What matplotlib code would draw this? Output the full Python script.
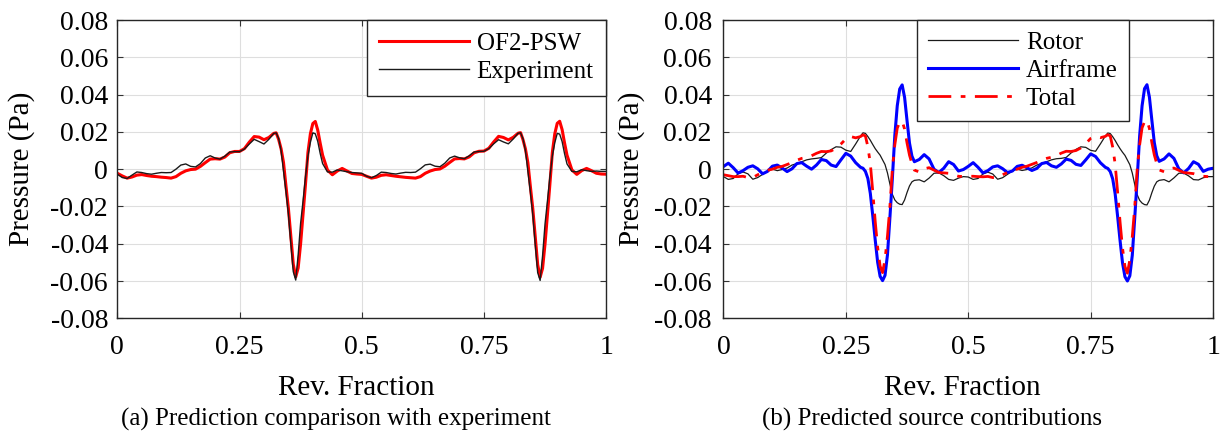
import matplotlib
matplotlib.use('Agg')
import matplotlib.pyplot as plt

plt.rcParams['font.family'] = ['Liberation Serif', 'DejaVu Serif']
plt.rcParams['axes.unicode_minus'] = False

# ---- (a) prediction vs experiment ----
rev_a = [
    0.00, 0.01, 0.02, 0.03, 0.04, 0.05, 0.06, 0.07, 0.08, 0.09,
    0.10, 0.11, 0.12, 0.13, 0.14, 0.15, 0.16, 0.17, 0.18, 0.19,
    0.20, 0.21, 0.22, 0.23, 0.24, 0.25, 0.26, 0.27, 0.28, 0.29,
    0.30, 0.31, 0.32,
    0.325, 0.33, 0.335, 0.34, 0.345, 0.35, 0.355, 0.36, 0.365, 0.37,
    0.375, 0.38, 0.385, 0.39, 0.395, 0.40, 0.405, 0.41, 0.415, 0.42,
    0.43, 0.44, 0.45, 0.46, 0.47, 0.48, 0.49,
    0.50, 0.51, 0.52, 0.53, 0.54, 0.55, 0.56, 0.57, 0.58, 0.59,
    0.60, 0.61, 0.62, 0.63, 0.64, 0.65, 0.66, 0.67, 0.68, 0.69,
    0.70, 0.71, 0.72, 0.73, 0.74, 0.75, 0.76, 0.77, 0.78, 0.79,
    0.80, 0.81, 0.82,
    0.825, 0.83, 0.835, 0.84, 0.845, 0.85, 0.855, 0.86, 0.865, 0.87,
    0.875, 0.88, 0.885, 0.89, 0.895, 0.90, 0.905, 0.91, 0.915, 0.92,
    0.93, 0.94, 0.95, 0.96, 0.97, 0.98, 0.99, 1.00,
]

of2_psw = [
    -0.0022, -0.0036, -0.0048, -0.0042, -0.0032, -0.0029, -0.0034, -0.0038, -0.0040, -0.0043,
    -0.0045, -0.0048, -0.0040, -0.0022, -0.0009, -0.0002, 0.0000, 0.0015, 0.0035, 0.0054,
    0.0056, 0.0054, 0.0065, 0.0088, 0.0095, 0.0095, 0.0110, 0.0145, 0.0175, 0.0172,
    0.0158, 0.0170, 0.0192,
    0.0195, 0.0160, 0.0110, 0.0036, -0.0090, -0.0210, -0.0360, -0.0510, -0.0578, -0.0530,
    -0.0400, -0.0240, -0.0080, 0.0090, 0.0190, 0.0245, 0.0256, 0.0210, 0.0140, 0.0075,
    -0.0005, -0.0030, -0.0010, 0.0004, -0.0010, -0.0023, -0.0026,
    -0.0028, -0.0038, -0.0048, -0.0043, -0.0033, -0.0030, -0.0034, -0.0038, -0.0041, -0.0044,
    -0.0046, -0.0048, -0.0040, -0.0022, -0.0010, -0.0002, 0.0001, 0.0016, 0.0036, 0.0055,
    0.0057, 0.0055, 0.0066, 0.0088, 0.0096, 0.0097, 0.0112, 0.0146, 0.0176, 0.0170,
    0.0157, 0.0171, 0.0193,
    0.0196, 0.0158, 0.0108, 0.0034, -0.0092, -0.0212, -0.0362, -0.0512, -0.0580, -0.0532,
    -0.0402, -0.0242, -0.0080, 0.0090, 0.0190, 0.0246, 0.0257, 0.0212, 0.0140, 0.0075,
    -0.0004, -0.0028, -0.0008, 0.0004, -0.0008, -0.0022, -0.0026, -0.0027,
]

experiment = [
    -0.0027, -0.0045, -0.0050, -0.0032, -0.0015, -0.0018, -0.0024, -0.0027, -0.0022, -0.0018,
    -0.0019, -0.0018, 0.0000, 0.0022, 0.0028, 0.0015, 0.0012, 0.0030, 0.0060, 0.0072,
    0.0060, 0.0054, 0.0070, 0.0092, 0.0094, 0.0094, 0.0108, 0.0135, 0.0160, 0.0148,
    0.0135, 0.0160, 0.0192,
    0.0195, 0.0165, 0.0100, -0.0010, -0.0120, -0.0240, -0.0400, -0.0550, -0.0595, -0.0460,
    -0.0290, -0.0170, -0.0040, 0.0070, 0.0144, 0.0195, 0.0190, 0.0150, 0.0085, 0.0030,
    -0.0015, -0.0016, -0.0004, -0.0009, -0.0014, -0.0018, -0.0020,
    -0.0022, -0.0038, -0.0046, -0.0034, -0.0016, -0.0018, -0.0023, -0.0026, -0.0021, -0.0017,
    -0.0018, -0.0016, 0.0002, 0.0023, 0.0027, 0.0016, 0.0013, 0.0032, 0.0060, 0.0070,
    0.0061, 0.0056, 0.0072, 0.0092, 0.0095, 0.0096, 0.0110, 0.0136, 0.0158, 0.0146,
    0.0136, 0.0162, 0.0193,
    0.0195, 0.0163, 0.0098, -0.0012, -0.0122, -0.0245, -0.0405, -0.0555, -0.0597, -0.0465,
    -0.0295, -0.0170, -0.0040, 0.0070, 0.0142, 0.0192, 0.0188, 0.0148, 0.0083, 0.0028,
    -0.0012, -0.0014, -0.0003, -0.0008, -0.0012, -0.0010, -0.0012, -0.0012,
]

# ---- (b) source breakdown ----
rev_b = [
    0.00, 0.01, 0.02, 0.03, 0.04, 0.05, 0.06, 0.07, 0.08, 0.09,
    0.10, 0.11, 0.12, 0.13, 0.14, 0.15, 0.16, 0.17, 0.18, 0.19,
    0.20, 0.21, 0.22, 0.23, 0.24, 0.25, 0.26, 0.27, 0.28,
    0.285, 0.29, 0.295, 0.30, 0.305, 0.31, 0.315, 0.32, 0.325, 0.33, 0.335,
    0.34, 0.345, 0.35, 0.355, 0.36, 0.365, 0.37, 0.375, 0.38, 0.385, 0.39,
    0.40, 0.41, 0.42, 0.43, 0.44, 0.45, 0.46, 0.47, 0.48, 0.49,
    0.50, 0.51, 0.52, 0.53, 0.54, 0.55, 0.56, 0.57, 0.58, 0.59,
    0.60, 0.61, 0.62, 0.63, 0.64, 0.65, 0.66, 0.67, 0.68, 0.69,
    0.70, 0.71, 0.72, 0.73, 0.74, 0.75, 0.76, 0.77, 0.78,
    0.785, 0.79, 0.795, 0.80, 0.805, 0.81, 0.815, 0.82, 0.825, 0.83, 0.835,
    0.84, 0.845, 0.85, 0.855, 0.86, 0.865, 0.87, 0.875, 0.88, 0.885, 0.89,
    0.90, 0.91, 0.92, 0.93, 0.94, 0.95, 0.96, 0.97, 0.98, 0.99, 1.00,
]

rotor = [
    -0.0040, -0.0055, -0.0050, -0.0025, -0.0015, -0.0025, -0.0054, -0.0045, -0.0028, -0.0010,
    0.0000, -0.0008, -0.0002, 0.0006, 0.0022, 0.0030, 0.0040, 0.0050, 0.0055, 0.0058,
    0.0062, 0.0086, 0.0105, 0.0120, 0.0118, 0.0102, 0.0095, 0.0135, 0.0178,
    0.0195, 0.0192, 0.0175, 0.0155, 0.0132, 0.0110, 0.0092, 0.0075, 0.0050, 0.0025, -0.0020,
    -0.0080, -0.0135, -0.0165, -0.0180, -0.0188, -0.0190, -0.0165, -0.0125, -0.0090, -0.0068, -0.0060,
    -0.0057, -0.0068, -0.0048, -0.0022, -0.0020, -0.0035, -0.0055, -0.0060, -0.0048, -0.0040,
    -0.0042, -0.0055, -0.0050, -0.0026, -0.0016, -0.0026, -0.0054, -0.0046, -0.0028, -0.0010,
    0.0000, -0.0007, -0.0002, 0.0007, 0.0022, 0.0031, 0.0040, 0.0050, 0.0056, 0.0058,
    0.0063, 0.0087, 0.0106, 0.0120, 0.0117, 0.0101, 0.0096, 0.0136, 0.0178,
    0.0194, 0.0191, 0.0174, 0.0154, 0.0131, 0.0110, 0.0091, 0.0074, 0.0049, 0.0024, -0.0021,
    -0.0082, -0.0137, -0.0167, -0.0182, -0.0190, -0.0192, -0.0166, -0.0126, -0.0091, -0.0068, -0.0060,
    -0.0056, -0.0068, -0.0047, -0.0022, -0.0021, -0.0036, -0.0056, -0.0058, -0.0046, -0.0040, -0.0040,
]

airframe = [
    0.0014, 0.0032, 0.0008, -0.0021, -0.0008, 0.0010, 0.0018, 0.0002, -0.0025, -0.0012,
    0.0016, 0.0022, 0.0006, -0.0013, 0.0002, 0.0030, 0.0035, 0.0016, 0.0000, 0.0022,
    0.0052, 0.0046, 0.0022, 0.0014, 0.0050, 0.0085, 0.0070, 0.0035, 0.0010,
    0.0005, -0.0012, -0.0050, -0.0130, -0.0250, -0.0380, -0.0500, -0.0575, -0.0598, -0.0570, -0.0460,
    -0.0260, -0.0050, 0.0180, 0.0340, 0.0430, 0.0452, 0.0385, 0.0260, 0.0140, 0.0070, 0.0040,
    0.0052, 0.0078, 0.0055, 0.0000, -0.0018, 0.0005, 0.0040, 0.0025, -0.0010, -0.0002,
    0.0015, 0.0035, 0.0010, -0.0020, -0.0008, 0.0012, 0.0018, 0.0003, -0.0018, -0.0010,
    0.0015, 0.0021, 0.0007, -0.0007, 0.0004, 0.0030, 0.0036, 0.0018, 0.0010, 0.0028,
    0.0054, 0.0047, 0.0026, 0.0020, 0.0050, 0.0082, 0.0068, 0.0034, 0.0010,
    0.0004, -0.0013, -0.0052, -0.0132, -0.0252, -0.0382, -0.0502, -0.0577, -0.0600, -0.0572, -0.0462,
    -0.0262, -0.0052, 0.0178, 0.0340, 0.0432, 0.0453, 0.0386, 0.0262, 0.0142, 0.0072, 0.0042,
    0.0055, 0.0082, 0.0058, 0.0002, -0.0020, 0.0004, 0.0040, 0.0026, -0.0012, 0.0000, 0.0005,
]

total = [
    -0.0030, -0.0035, -0.0040, -0.0040, -0.0038, -0.0045, -0.0045, -0.0030, -0.0018, -0.0006,
    0.0000, 0.0010, 0.0015, 0.0025, 0.0035, 0.0048, 0.0058, 0.0063, 0.0072, 0.0085,
    0.0095, 0.0094, 0.0098, 0.0112, 0.0135, 0.0162, 0.0175, 0.0168, 0.0175,
    0.0184, 0.0178, 0.0120, 0.0030, -0.0120, -0.0280, -0.0420, -0.0520, -0.0555, -0.0485, -0.0360,
    -0.0200, 0.0000, 0.0130, 0.0220, 0.0252, 0.0258, 0.0215, 0.0140, 0.0075, 0.0030, -0.0005,
    -0.0015, 0.0002, 0.0008, -0.0005, -0.0018, -0.0020, -0.0022, -0.0030, -0.0038, -0.0040,
    -0.0038, -0.0038, -0.0040, -0.0041, -0.0039, -0.0045, -0.0044, -0.0030, -0.0018, -0.0007,
    0.0000, 0.0010, 0.0016, 0.0026, 0.0036, 0.0049, 0.0058, 0.0064, 0.0073, 0.0086,
    0.0096, 0.0095, 0.0100, 0.0114, 0.0137, 0.0165, 0.0176, 0.0169, 0.0176,
    0.0185, 0.0178, 0.0118, 0.0028, -0.0122, -0.0282, -0.0422, -0.0522, -0.0558, -0.0487, -0.0362,
    -0.0202, -0.0002, 0.0130, 0.0222, 0.0255, 0.0262, 0.0218, 0.0142, 0.0076, 0.0030, -0.0004,
    -0.0014, 0.0002, 0.0006, -0.0006, -0.0018, -0.0021, -0.0024, -0.0032, -0.0038, -0.0040, -0.0040,
]

y_ticks = [-0.08, -0.06, -0.04, -0.02, 0, 0.02, 0.04, 0.06, 0.08]
y_tick_labels = ['-0.08', '-0.06', '-0.04', '-0.02', '0', '0.02', '0.04', '0.06', '0.08']
x_ticks = [0, 0.25, 0.5, 0.75, 1]
x_tick_labels = ['0', '0.25', '0.5', '0.75', '1']


def style_axes(ax, ylabel_x, ytick_pad):
    ax.set_xlim(0, 1)
    ax.set_ylim(-0.08, 0.08)
    ax.set_xticks(x_ticks, x_tick_labels)
    ax.set_yticks(y_ticks, y_tick_labels)
    ax.tick_params(direction='in', length=4, width=0.8, color='0.2',
                   top=True, right=True, labelsize=20)
    ax.tick_params(axis='x', pad=12)
    ax.tick_params(axis='y', pad=ytick_pad)
    ax.grid(True, color='0.87', lw=0.8)
    ax.set_axisbelow(True)
    for sp in ax.spines.values():
        sp.set_linewidth(1.0)
        sp.set_color('0.15')
    ax.set_xlabel('Rev. Fraction', fontsize=21, va='center')
    ax.xaxis.set_label_coords(0.488, -0.235)
    ax.set_ylabel('Pressure (Pa)', fontsize=21, va='center')
    ax.yaxis.set_label_coords(ylabel_x, 0.5)


fig = plt.figure(figsize=(12.22, 4.36), dpi=100)
ax1 = fig.add_axes([0.096, 0.27, 0.400, 0.684])
ax2 = fig.add_axes([0.592, 0.27, 0.4007, 0.684])

ax1.plot(rev_a, of2_psw, color='#ff0000', lw=2.2, label='OF2-PSW')
ax1.plot(rev_a, experiment, color='#1a1a1a', lw=1.0, label='Experiment')
style_axes(ax1, -0.195, 6.7)
leg1 = ax1.legend(loc='upper right', bbox_to_anchor=(1, 1), borderaxespad=0,
                  fontsize=18, handlelength=3.6, handletextpad=0.3,
                  labelspacing=0.22, borderpad=0.5, fancybox=False,
                  framealpha=1, edgecolor='0.15')
leg1.get_frame().set_linewidth(1.0)

ax2.plot(rev_b, rotor, color='#1a1a1a', lw=0.9, label='Rotor')
ax2.plot(rev_b, airframe, color='#0000ff', lw=2.2, label='Airframe')
ax2.plot(rev_b, total, color='#ff0000', lw=2.0, ls=(0, (8.2, 3.4, 1.7, 3.4)),
         label='Total')
style_axes(ax2, -0.188, 8.4)
leg2 = ax2.legend(loc='upper left', bbox_to_anchor=(0.3955, 1), borderaxespad=0,
                  fontsize=18, handlelength=3.6, handletextpad=0.3,
                  labelspacing=0.22, borderpad=0.45, fancybox=False,
                  framealpha=1, edgecolor='0.15')
leg2.get_frame().set_linewidth(1.0)

fig.text(0.275, 0.038, '(a) Prediction comparison with experiment',
         fontsize=18, ha='center', va='center')
fig.text(0.7627, 0.038, '(b) Predicted source contributions',
         fontsize=18, ha='center', va='center')

fig.savefig('out.png', dpi=100)
